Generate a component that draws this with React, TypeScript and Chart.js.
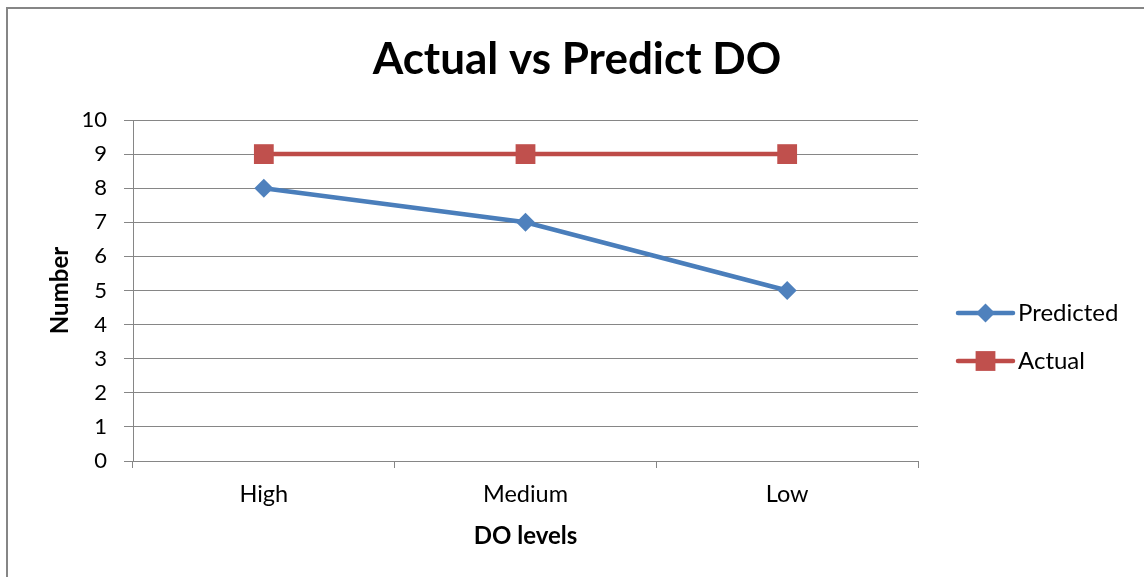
import { useEffect, useRef } from "react";
import { Chart, registerables } from "chart.js";

Chart.register(...registerables);

// Dissolved-oxygen levels and the two series plotted against them
const categories = ["High", "Medium", "Low"];
const predicted = [8, 7, 5];
const actual = [9, 9, 9];
const yMin = 0;
const yMax = 10;
const yStep = 1;

const FONT = "Lato, 'Open Sans', sans-serif";
const GRID = "#868686";
const BLUE_LINE = "#4A7EBB";
const BLUE_MARK = "#4F81BD";
const RED_LINE = "#BE4B48";
const RED_MARK = "#C0504D";

function marker(ctx: CanvasRenderingContext2D, style: string, x: number, y: number, r: number, color: string) {
  ctx.save();
  ctx.fillStyle = color;
  ctx.beginPath();
  if (style === "rectRot") {
    ctx.moveTo(x, y - r);
    ctx.lineTo(x + r, y);
    ctx.lineTo(x, y + r);
    ctx.lineTo(x - r, y);
    ctx.closePath();
  } else {
    const s = Math.SQRT1_2 * r;
    ctx.rect(x - s, y - s, 2 * s, 2 * s);
  }
  ctx.fill();
  ctx.restore();
}

// Outer frame plus a line-and-marker legend on the right
const framePlugin = {
  id: "frameAndLegend",
  beforeDraw(chart: any) {
    const { ctx, width, height } = chart;
    ctx.save();
    ctx.fillStyle = "#ffffff";
    ctx.fillRect(0, 0, width, height);
    ctx.strokeStyle = GRID;
    ctx.lineWidth = 2;
    ctx.beginPath();
    ctx.moveTo(7, height);
    ctx.lineTo(7, 8);
    ctx.lineTo(width, 8);
    ctx.stroke();
    ctx.restore();
  },
  afterDraw(chart: any) {
    const { ctx } = chart;
    const x0 = 958;
    const x1 = 1013;
    const yStart = 313;
    const gap = 48;
    chart.data.datasets.forEach((ds: any, i: number) => {
      const y = yStart + i * gap;
      ctx.save();
      ctx.strokeStyle = ds.borderColor;
      ctx.lineWidth = ds.borderWidth;
      ctx.lineCap = "round";
      ctx.beginPath();
      ctx.moveTo(x0, y);
      ctx.lineTo(x1, y);
      ctx.stroke();
      ctx.restore();
      marker(ctx, ds.pointStyle, (x0 + x1) / 2, y, ds.pointRadius, ds.pointBackgroundColor);
      ctx.save();
      ctx.fillStyle = "#000";
      ctx.font = `24px ${FONT}`;
      ctx.textBaseline = "middle";
      ctx.textAlign = "left";
      ctx.fillText(ds.label, x1 + 5, y);
      ctx.restore();
    });
  },
};

export default function App() {
  const ref = useRef<HTMLCanvasElement | null>(null);

  useEffect(() => {
    if (!ref.current) return;
    const chart = new Chart(ref.current, {
      type: "line",
      data: {
        labels: categories,
        datasets: [
          {
            label: "Predicted",
            data: predicted,
            borderColor: BLUE_LINE,
            borderWidth: 4.5,
            pointStyle: "rectRot",
            pointRadius: 9.5,
            pointBackgroundColor: BLUE_MARK,
            pointBorderWidth: 0,
            pointBorderColor: BLUE_MARK,
            tension: 0,
          },
          {
            label: "Actual",
            data: actual,
            borderColor: RED_LINE,
            borderWidth: 4.5,
            pointStyle: "rect",
            pointRadius: 14,
            pointBackgroundColor: RED_MARK,
            pointBorderWidth: 0,
            pointBorderColor: RED_MARK,
            tension: 0,
          },
        ],
      },
      options: {
        animation: false,
        responsive: false,
        layout: { padding: { left: 10, top: 0, right: 0, bottom: 0 } },
        plugins: {
          legend: { display: false },
          tooltip: { enabled: false },
          title: {
            display: true,
            text: "Actual vs Predict DO",
            color: "#000",
            font: { family: FONT, size: 44, weight: "bold", lineHeight: 1.2 },
            padding: { top: 33.6, bottom: 33.6 },
          },
        },
        scales: {
          x: {
            offset: true,
            grid: { offset: true, drawOnChartArea: false, drawTicks: true, tickLength: 7, color: GRID, lineWidth: 1 },
            border: { color: GRID, width: 1 },
            ticks: { color: "#000", font: { family: FONT, size: 23.5, lineHeight: 1.2 }, padding: 12 },
            title: {
              display: true,
              text: "DO levels",
              color: "#000",
              font: { family: FONT, size: 24, weight: "bold", lineHeight: 1.2 },
              padding: { top: 0, bottom: 26.6 },
            },
            afterFit: (s: any) => {
              s.height = 116;
            },
          },
          y: {
            min: yMin,
            max: yMax,
            grid: { color: GRID, lineWidth: 1, tickLength: 9 },
            border: { color: GRID, width: 1 },
            ticks: { stepSize: yStep, color: "#000", font: { family: FONT, size: 22 }, padding: 17 },
            title: {
              display: true,
              text: "Number",
              color: "#000",
              font: { family: FONT, size: 24, weight: "bold", lineHeight: 1.2 },
              padding: { top: 35.6, bottom: 0 },
            },
            afterFit: (s: any) => {
              s.width = 123;
            },
          },
          y2: {
            position: "right",
            display: true,
            grid: { display: false },
            border: { display: false },
            ticks: { display: false },
            afterFit: (s: any) => {
              s.width = 226;
            },
          },
        },
      },
      plugins: [framePlugin],
    } as any);
    return () => chart.destroy();
  }, []);

  return (
    <canvas
      ref={ref}
      width={1144}
      height={577}
      style={{ position: "fixed", left: 0, top: 0, display: "block" }}
    />
  );
}
